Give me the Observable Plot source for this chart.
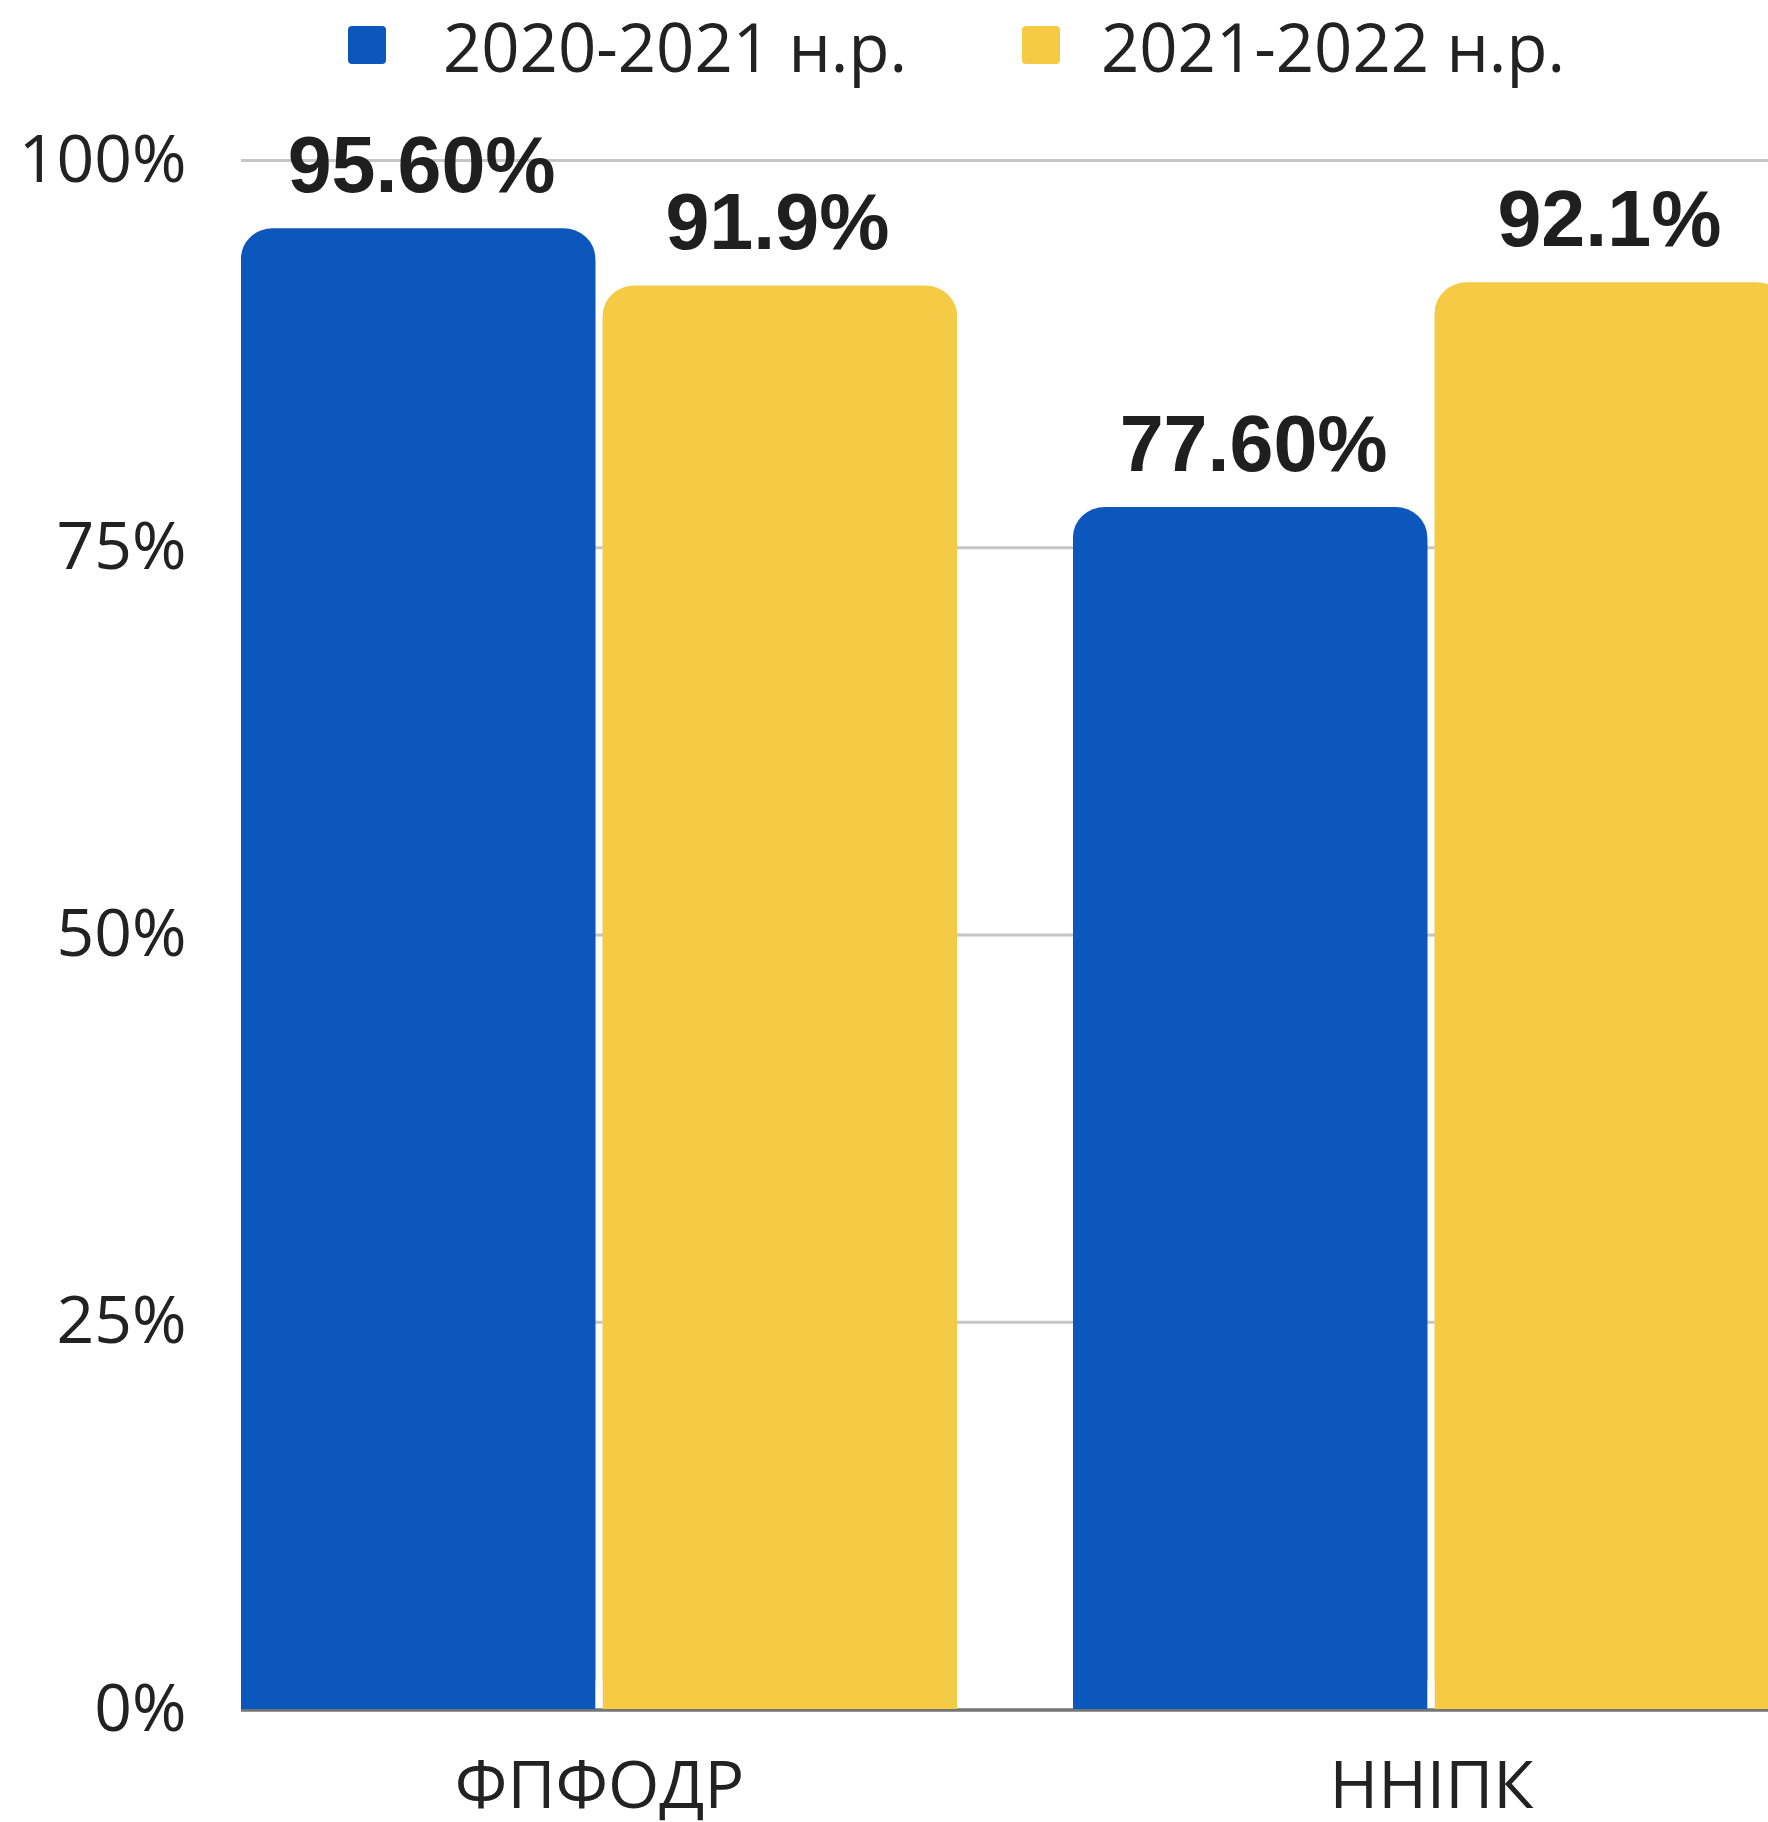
<!DOCTYPE html>
<html>
<head>
<meta charset="utf-8">
<script src="https://cdn.jsdelivr.net/npm/d3@7"></script>
<script src="https://cdn.jsdelivr.net/npm/@observablehq/plot@0.6"></script>
<style>
  html, body { margin: 0; padding: 0; background: #fff; overflow: hidden; }
  #wrap { width: 1768px; height: 1822px; overflow: hidden; position: relative; }
  #legend { position: relative; height: 100px; width: 1768px; font-family: "Open Sans", sans-serif; }
  #chart { width: 1790px; height: 1722px; }
  #chart svg { max-width: none !important; display: block; }
  .sw { position: absolute; width: 38px; height: 38px; top: 26px; border-radius: 4px; }
  .lt { position: absolute; top: 13px; font-size: 67px; line-height: 1; color: #222; white-space: nowrap; }
</style>
</head>
<body>
<div id="wrap">
  <div id="legend"></div>
  <div id="chart"></div>
</div>
<script>
const categories = ["ФПФОДР", "ННІПК"];
const series = ["2020-2021 н.р.", "2021-2022 н.р."];
const colors = ["#0c57bb", "#f5ca45"];
const values2020 = [95.6, 77.6];
const values2021 = [91.9, 92.1];
const valueLabels2020 = ["95.60%", "77.60%"];
const valueLabels2021 = ["91.9%", "92.1%"];
const yTicks = [0, 25, 50, 75, 100];

const data = [];
categories.forEach((c, i) => {
  data.push({category: c, series: series[0], value: values2020[i], label: valueLabels2020[i]});
  data.push({category: c, series: series[1], value: values2021[i], label: valueLabels2021[i]});
});

// legend
const legend = document.getElementById("legend");
const swLeft = [348, 1022];
const txLeft = [443, 1101];
series.forEach((s, i) => {
  const sw = document.createElement("div");
  sw.className = "sw";
  sw.style.left = swLeft[i] + "px";
  sw.style.background = colors[i];
  legend.appendChild(sw);
  const t = document.createElement("div");
  t.className = "lt";
  t.style.left = txLeft[i] + "px";
  t.textContent = s;
  legend.appendChild(t);
});

const half = 361.7;   // half band + half inner gap (px)
const shift = 180.9;  // offset of each bar centre from band centre (px)
const seriesMarks = series.flatMap((s, i) => {
  const rows = data.filter(d => d.series === s);
  const inset = i === 0 ? {insetRight: half} : {insetLeft: half};
  return [
    Plot.barY(rows, {x: "category", y: "value", fill: "series", rx: 32, ry: 30, ...inset}),
    Plot.barY(rows, {x: "category", y: "value", fill: "series", insetTop: 32, ...inset}),
    Plot.text(rows, {x: "category", y: "value", text: "label", dx: i === 0 ? -shift + 3 : shift - 3, dy: -62,
      fontSize: 79, fontWeight: "bold", fontFamily: "'Liberation Sans', Arial, sans-serif", fill: "#1f1f1f", letterSpacing: 3.5})
  ];
});

const chart = Plot.plot({
  width: 1790,
  height: 1722,
  marginTop: 60,
  marginBottom: 113,
  marginLeft: 241,
  marginRight: 0,
  style: {fontFamily: "'Open Sans', sans-serif", color: "#222", background: "#fff", maxWidth: "none"},
  x: {domain: categories, paddingInner: 0.1394, paddingOuter: 0, label: null, axis: null},
  y: {domain: [0, 100], axis: null},
  color: {domain: series, range: colors},
  marks: [
    Plot.gridY(yTicks.filter(d => d > 0), {stroke: "#c6c6c6", strokeOpacity: 1, strokeWidth: 3}),
    Plot.ruleY([0], {stroke: "#757575", strokeWidth: 3.5, dy: 0.5}),
    Plot.axisY(yTicks, {tickSize: 0, tickPadding: 55, fontSize: 66, tickFormat: d => d + "%", label: null, fill: "#222"}),
    ...seriesMarks,
    Plot.axisX({anchor: "bottom", tickSize: 0, tickPadding: 52, fontSize: 66, label: null, fill: "#222"})
  ]
});
chart.style.maxWidth = "none";
document.getElementById("chart").appendChild(chart);
</script>
</body>
</html>
